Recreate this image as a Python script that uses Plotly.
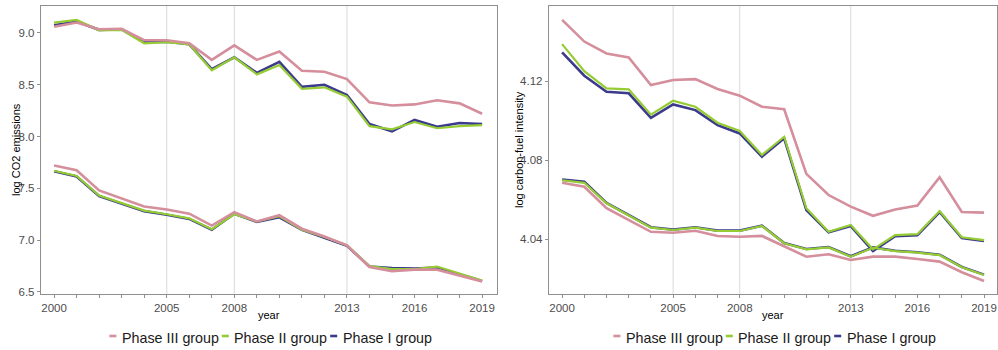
import plotly.graph_objects as go

# ---------------- data ----------------
years = list(range(2000, 2020))
labeled_years = [2000, 2005, 2008, 2013, 2016, 2019]
vline_years = [2005, 2008, 2013]

group_names = ["Phase III group", "Phase II group", "Phase I group"]

# log CO2 emissions (two lines per group)
co2_p3_a = [9.06, 9.10, 9.035, 9.04, 8.93, 8.93, 8.90, 8.74, 8.88, 8.74, 8.82, 8.635, 8.625, 8.555, 8.33, 8.30, 8.31, 8.35, 8.32, 8.22]
co2_p2_a = [9.10, 9.125, 9.025, 9.03, 8.90, 8.91, 8.89, 8.64, 8.765, 8.60, 8.69, 8.46, 8.475, 8.385, 8.10, 8.07, 8.14, 8.08, 8.10, 8.11]
co2_p1_a = [9.075, 9.11, 9.03, 9.035, 8.91, 8.915, 8.89, 8.65, 8.765, 8.615, 8.72, 8.48, 8.50, 8.40, 8.12, 8.05, 8.16, 8.095, 8.13, 8.12]
co2_p3_b = [7.72, 7.675, 7.48, 7.40, 7.325, 7.295, 7.255, 7.14, 7.27, 7.18, 7.24, 7.11, 7.035, 6.95, 6.74, 6.70, 6.715, 6.715, 6.66, 6.60]
co2_p2_b = [7.67, 7.62, 7.43, 7.36, 7.285, 7.25, 7.21, 7.105, 7.25, 7.18, 7.23, 7.10, 7.03, 6.95, 6.75, 6.72, 6.72, 6.745, 6.68, 6.61]
co2_p1_b = [7.665, 7.615, 7.425, 7.355, 7.28, 7.245, 7.205, 7.10, 7.255, 7.175, 7.22, 7.10, 7.025, 6.945, 6.745, 6.73, 6.725, 6.735, 6.67, 6.605]

# log carbon-fuel intensity (two lines per group)
cfi_p3_a = [4.151, 4.140, 4.134, 4.132, 4.118, 4.1205, 4.121, 4.116, 4.1126, 4.107, 4.1057, 4.073, 4.0623, 4.0564, 4.0518, 4.055, 4.057, 4.0713, 4.0537, 4.0534]
cfi_p2_a = [4.1387, 4.125, 4.1163, 4.1158, 4.103, 4.110, 4.107, 4.0989, 4.0947, 4.0826, 4.0918, 4.0556, 4.0437, 4.0471, 4.0348, 4.042, 4.0425, 4.0542, 4.0409, 4.0395]
cfi_p1_a = [4.1345, 4.1227, 4.1146, 4.1138, 4.1014, 4.1082, 4.1053, 4.0977, 4.0935, 4.0817, 4.091, 4.0547, 4.0434, 4.0466, 4.0339, 4.0415, 4.042, 4.0537, 4.0405, 4.039]
cfi_p3_b = [4.0685, 4.0665, 4.0556, 4.0497, 4.0437, 4.0432, 4.0442, 4.0416, 4.0412, 4.0416, 4.0362, 4.0311, 4.0323, 4.0294, 4.0311, 4.0311, 4.0299, 4.0286, 4.0232, 4.0188]
cfi_p2_b = [4.0698, 4.0685, 4.0581, 4.052, 4.0458, 4.0446, 4.0458, 4.0441, 4.0441, 4.0466, 4.0379, 4.0348, 4.0358, 4.0311, 4.0356, 4.0339, 4.0331, 4.0319, 4.0257, 4.0218]
cfi_p1_b = [4.0701, 4.069, 4.0583, 4.0522, 4.046, 4.0448, 4.046, 4.0443, 4.0443, 4.0468, 4.038, 4.035, 4.036, 4.0313, 4.0358, 4.0341, 4.0333, 4.0321, 4.0259, 4.022]

co2_ticks = [6.5, 7.0, 7.5, 8.0, 8.5, 9.0]
cfi_ticks = [4.04, 4.08, 4.12]

# ---------------- style ----------------
W, H = 998, 350
FONT = "Liberation Sans, Arial, sans-serif"
colors = {"Phase III group": "#D48E9C", "Phase II group": "#95CC33", "Phase I group": "#3B3A8C"}
widths = {"Phase III group": 2.6, "Phase II group": 2.2, "Phase I group": 2.6}
axis_col = "#8f8f8f"
tick_font = dict(family=FONT, size=11.5, color="#4d4d4d")

panels = [
    # (xaxis, yaxis, px left, px right, data dict, yticks, fmt, ytitle, yrange, xrange)
    dict(xa="x", ya="y", l=41, r=497,
         data={"Phase I group": (co2_p1_a, co2_p1_b), "Phase II group": (co2_p2_a, co2_p2_b), "Phase III group": (co2_p3_a, co2_p3_b)},
         yticks=co2_ticks, fmt=".1f", ytitle="log CO2 emissions", yrange=[6.48, 9.26], xrange=[1999.42, 2019.66], ytx=16),
    dict(xa="x2", ya="y2", l=549, r=997,
         data={"Phase I group": (cfi_p1_a, cfi_p1_b), "Phase II group": (cfi_p2_a, cfi_p2_b), "Phase III group": (cfi_p3_a, cfi_p3_b)},
         yticks=cfi_ticks, fmt=".2f", ytitle="log carbon-fuel intensity", yrange=[4.0122, 4.158], xrange=[1999.41, 2019.585], ytx=519),
]

TOP, BOT = 6, 294
fig = go.Figure()

for p in panels:
    for g in ["Phase I group", "Phase II group", "Phase III group"]:
        for series in p["data"][g]:
            fig.add_trace(go.Scatter(x=years, y=series, mode="lines", xaxis=p["xa"], yaxis=p["ya"],
                                     line=dict(color=colors[g], width=widths[g]), showlegend=False,
                                     hoverinfo="skip"))

ticktext = [str(y) if y in labeled_years else "" for y in years]

def axis_common():
    return dict(showline=True, linecolor=axis_col, linewidth=1.4, mirror=True, showgrid=False,
                zeroline=False, ticks="outside", ticklen=3, tickcolor=axis_col, tickwidth=1,
                tickfont=tick_font, automargin=False, fixedrange=True)

layout = dict(width=W, height=H, margin=dict(l=0, r=0, t=0, b=0), paper_bgcolor="white",
              plot_bgcolor="white", showlegend=False, font=dict(family=FONT))

shapes = []
annotations = []
for i, p in enumerate(panels):
    sfx = "" if i == 0 else "2"
    xd = [p["l"] / W, p["r"] / W]
    yd = [(H - BOT) / H, (H - TOP) / H]
    layout["xaxis" + sfx] = dict(domain=xd, range=p["xrange"], tickvals=years, ticktext=ticktext,
                                 anchor="y" + sfx, **axis_common())
    layout["yaxis" + sfx] = dict(domain=yd, range=p["yrange"], tickvals=p["yticks"], tickformat=p["fmt"],
                                 anchor="x" + sfx, **axis_common())
    for vy in vline_years:
        shapes.append(dict(type="line", xref="x" + sfx, yref="paper", x0=vy, x1=vy, y0=yd[0], y1=yd[1],
                           line=dict(color="#d9d9d9", width=1), layer="below"))
    cx = (p["l"] + p["r"]) / 2
    # x-axis title
    annotations.append(dict(text="year", xref="paper", yref="paper", x=cx / W, y=(H - 315) / H,
                            xanchor="center", yanchor="middle", showarrow=False,
                            font=dict(family=FONT, size=11, color="black")))
    # y-axis title
    annotations.append(dict(text=p["ytitle"], xref="paper", yref="paper", x=p["ytx"] / W,
                            y=(H - (TOP + BOT) / 2) / H, xanchor="center", yanchor="middle",
                            textangle=-90, showarrow=False, font=dict(family=FONT, size=11, color="black")))

    # legend (short dash + label), centred under each panel
    cw = {"P": .667, "h": .556, "a": .556, "s": .5, "e": .556, " ": .278, "I": .278,
          "g": .556, "r": .333, "o": .556, "u": .556, "p": .556}
    fs = 14.3
    def tw(s):
        return sum(cw.get(c, .556) for c in s) * fs
    dash, gap1, gap2 = 7, 4.4, 4
    total = sum(dash + gap1 + tw(n) for n in group_names) + gap2 * (len(group_names) - 1)
    x = cx + 1 - total / 2
    ly = 336
    for n in group_names:
        shapes.append(dict(type="line", xref="paper", yref="paper", x0=x / W, x1=(x + dash) / W,
                           y0=(H - ly) / H, y1=(H - ly) / H, line=dict(color=colors[n], width=2.6)))
        annotations.append(dict(text=n, xref="paper", yref="paper", x=(x + dash + gap1 - 1) / W,
                                y=(H - 337.5) / H, xanchor="left", yanchor="middle", showarrow=False,
                                font=dict(family=FONT, size=fs, color="#1a1a1a")))
        x += dash + gap1 + tw(n) + gap2

layout["shapes"] = shapes
layout["annotations"] = annotations
fig.update_layout(**layout)

fig.write_html("out.html")
